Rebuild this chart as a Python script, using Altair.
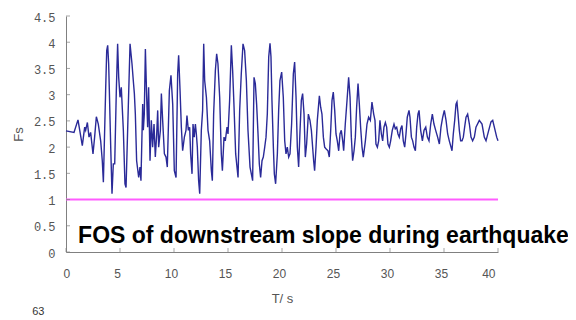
import altair as alt
import pandas as pd

# ---- data ----
t_vals = [
    0, 0.74, 1.11, 1.51, 1.73, 1.82, 1.98, 2.13, 2.28, 2.50, 2.65, 2.81, 2.99, 3.21, 3.36, 3.46,
    3.67, 3.77, 3.86, 3.95, 4.01, 4.14, 4.26, 4.38, 4.51, 4.66, 4.78, 4.88, 5.0, 5.12, 5.31, 5.46,
    5.56, 5.93, 6.11, 6.23, 6.33, 6.42, 6.54, 6.73, 6.85, 6.94, 7.10, 7.16, 7.25, 7.35, 7.47, 7.56,
    7.65, 7.78, 7.90, 8.02, 8.15, 8.27, 8.40, 8.49, 8.58, 8.74, 8.83, 8.95, 9.11, 9.26, 9.38, 9.57,
    9.72, 9.88, 10.03, 10.19, 10.34, 10.43, 10.56, 10.68, 10.80, 10.96, 11.11, 11.20,
    11.33, 11.45, 11.54, 11.67, 11.76, 11.87, 11.98, 12.07, 12.16, 12.28, 12.38, 12.53, 12.65, 12.75,
    12.84, 13.0, 13.15, 13.30, 13.46, 13.55, 13.67, 13.83, 13.95, 14.07, 14.23, 14.38, 14.48, 14.63,
    14.75, 14.91, 15.0, 15.15, 15.31, 15.43, 15.56, 15.71, 15.93, 16.08, 16.23, 16.39, 16.54, 16.70,
    16.85, 17.04,
    17.16, 17.28, 17.41, 17.53, 17.65, 17.78, 17.90, 18.02, 18.15, 18.27, 18.40, 18.52, 18.64, 18.77,
    18.89, 18.98, 19.07, 19.20, 19.29, 19.41, 19.57, 19.69, 19.81, 19.97, 20.12, 20.25, 20.37, 20.49,
    20.62, 20.74, 20.89, 21.05, 21.17, 21.30, 21.42, 21.54, 21.67, 21.79, 21.91, 22.04, 22.16, 22.28,
    22.44, 22.59, 22.72,
    22.93, 23.02, 23.15, 23.27, 23.46, 23.58, 23.70, 23.83, 23.95, 24.07, 24.26, 24.38, 24.51, 24.63,
    24.75, 24.88, 25.0, 25.12, 25.25, 25.37, 25.49, 25.62, 25.71, 25.86, 26.02, 26.17, 26.30, 26.42,
    26.54, 26.67, 26.79, 26.91, 27.04, 27.16, 27.28, 27.41, 27.53, 27.72, 27.87, 28.02, 28.18, 28.33,
    28.49,
    28.61, 28.70, 28.83, 28.95, 29.07, 29.20, 29.32, 29.44, 29.57, 29.69, 29.81, 29.94, 30.06, 30.21,
    30.37, 30.49, 30.62, 30.74, 30.86, 30.99, 31.11, 31.23, 31.36, 31.48, 31.60, 31.76, 31.85, 31.98,
    32.10, 32.22, 32.35, 32.47, 32.59, 32.69, 32.84, 33.0, 33.15, 33.31, 33.46, 33.61, 33.77, 33.92,
    34.07, 34.23,
    34.41, 34.57, 34.72, 34.88, 35.03, 35.19, 35.34, 35.49, 35.65, 35.74, 35.86, 35.99, 36.11, 36.20,
    36.30, 36.42, 36.54, 36.67, 36.79, 36.91, 37.04, 37.19, 37.35, 37.50, 37.65, 37.81, 37.96, 38.27,
    38.52, 38.73, 38.89, 39.14, 39.35, 39.51, 39.66, 39.88, 40.0,
]
fs_vals = [
    2.31, 2.28, 2.52, 2.03, 2.38, 2.32, 2.47, 2.19, 2.28, 1.87, 2.19, 2.58, 2.44, 2.12, 1.74, 1.33,
    3.08, 3.84, 3.94, 3.59, 3.11, 2.0, 1.11, 1.68, 1.68, 3.08, 3.97, 3.33, 2.95, 3.14, 2.32, 1.30,
    1.23, 3.97, 3.59, 3.27, 3.02, 2.63, 1.74, 1.42, 1.62, 1.36, 2.82, 2.32, 2.63, 3.87, 2.95, 2.38,
    3.14, 1.74, 2.51, 2.0, 2.44, 1.81, 2.25, 2.70, 2.0, 2.32, 3.02, 2.51, 1.87, 1.81, 1.62, 3.08,
    3.37, 2.82, 1.55, 1.42, 3.40, 3.75, 3.08, 2.38, 1.93, 2.19, 2.32, 2.60,
    2.32, 2.38, 1.87, 1.49, 2.44, 2.19, 2.44, 2.25, 2.0, 1.36, 1.11, 2.32, 2.70, 3.97,
    3.27, 2.95, 2.32, 2.12, 1.55, 1.36, 2.63, 3.46, 3.78, 3.59, 2.95, 1.87, 1.55, 2.19,
    2.12, 2.38, 2.25, 2.89, 3.94, 3.46, 2.76, 1.87, 1.42, 2.70, 3.40, 3.97, 3.84, 3.27,
    2.32, 1.62,
    1.49, 1.36, 3.33, 3.21, 2.82, 2.25, 1.68, 1.42, 1.74, 1.81, 2.0, 2.19, 2.63, 3.72,
    3.98, 3.72, 2.89, 2.0, 1.49, 1.30, 1.87, 2.70, 3.27, 3.43, 2.95, 2.12, 1.87, 2.0,
    1.81, 1.87, 2.44, 3.40, 3.62, 2.95, 2.0, 1.62, 2.32, 2.89, 3.02, 2.63, 1.81, 2.06,
    2.63, 2.51, 2.32,
    1.74, 1.55, 2.0, 2.51, 2.98, 2.76, 2.63, 2.19, 2.0, 1.97, 1.93, 1.81, 2.32, 2.89,
    3.05, 2.70, 2.25, 2.12, 1.93, 2.25, 2.32, 2.12, 1.93, 2.44, 2.89, 3.33, 2.95, 2.19,
    1.74, 1.93, 2.19, 2.76, 3.21, 2.82, 2.38, 2.0, 1.81, 2.12, 2.44, 2.57, 2.51, 2.86,
    2.63,
    2.51, 2.06, 2.0, 2.12, 2.51, 2.25, 2.12, 2.38, 2.47, 2.38, 2.06, 2.0, 2.12, 2.32,
    2.44, 2.35, 2.38, 2.25, 2.19, 2.35, 2.41, 2.12, 2.0, 2.25, 2.57, 2.70, 2.57, 2.19,
    2.12, 2.0, 1.93, 2.38, 2.63, 2.70, 2.32, 2.12, 2.32, 2.38, 2.19, 2.12, 2.44, 2.63,
    2.44, 2.32,
    2.19, 2.06, 2.38, 2.57, 2.70, 2.51, 2.25, 2.12, 2.0, 1.93, 2.25, 2.51, 2.82, 2.86,
    2.63, 2.32, 2.12, 2.12, 2.19, 2.38, 2.57, 2.63, 2.44, 2.19, 2.12, 2.19, 2.38, 2.51,
    2.44, 2.19, 2.12, 2.32, 2.48, 2.51, 2.38, 2.19, 2.12,
]
x_ticks = [0, 5, 10, 15, 20, 25, 30, 35, 40]
y_ticks = [0, 0.5, 1, 1.5, 2, 2.5, 3, 3.5, 4, 4.5]
threshold = [1.0]
annotation = ["FOS of downstream slope during earthquake"]
page_label = ["63"]

df = pd.DataFrame({"t": t_vals, "fs": fs_vals})
xscale = alt.Scale(domain=[0, 40], nice=False, zero=False)
yscale = alt.Scale(domain=[0, 4.5], nice=False, zero=False)

axis_grey = "#808080"
x_title = "T/ s"
y_title = "Fs"

x_axis = alt.Axis(values=x_ticks, tickSize=0, labelPadding=16, labelOffset=-3,
                  domainColor=axis_grey, grid=False, labelOverlap=False,
                  labelFont="Liberation Sans", labelFontSize=12, labelColor="#555555",
                  titleFont="Liberation Sans", titleFontSize=13, titleFontWeight="normal",
                  titleColor="#555555", titlePadding=13)
y_axis = alt.Axis(values=y_ticks, tickSize=0, labelPadding=11, labelOffset=1,
                  domainColor=axis_grey, grid=False, labelOverlap=False,
                  labelFont="Liberation Mono", labelFontSize=12, labelColor="#555555",
                  format=".1~f",
                  titleFont="Liberation Sans", titleFontSize=13, titleFontWeight="normal",
                  titleColor="#555555", titlePadding=8)


def X(field):
    return alt.X(field, type="quantitative", scale=xscale, axis=x_axis, title=x_title)


def Y(field):
    return alt.Y(field, type="quantitative", scale=yscale, axis=y_axis, title=y_title)


line = alt.Chart(df).mark_line(color="#2a2a98", strokeWidth=1.4, interpolate="linear").encode(
    x=X("t"), y=Y("fs")
)

thr_df = pd.DataFrame({"y": threshold, "x0": [x_ticks[0]], "x1": [x_ticks[-1]]})
thr = alt.Chart(thr_df).mark_rule(color="#ff5cff", strokeWidth=2).encode(
    y=Y("y"), x=X("x0"), x2="x1:Q"
)

ytick = alt.Chart(pd.DataFrame({"v": y_ticks, "z": [0] * len(y_ticks)})).mark_tick(
    orient="horizontal", size=4, thickness=1, xOffset=2, color=axis_grey
).encode(y=Y("v"), x=X("z"))

xtick = alt.Chart(pd.DataFrame({"v": x_ticks, "z": [0] * len(x_ticks)})).mark_tick(
    orient="vertical", size=4, thickness=1, yOffset=-2, color=axis_grey
).encode(x=X("v"), y=Y("z"))

ann = alt.Chart(pd.DataFrame({"txt": annotation, "x": [1.12], "y": [0.17]})).mark_text(
    align="left", baseline="alphabetic", font="Liberation Sans", fontSize=23,
    fontWeight="bold", color="black"
).encode(x=X("x"), y=Y("y"), text="txt:N")

page = alt.Chart(pd.DataFrame({"txt": page_label, "x": [-2.56], "y": [-1.15]})).mark_text(
    align="center", baseline="middle", font="Liberation Sans", fontSize=11, color="#333333"
).encode(x=X("x"), y=Y("y"), text="txt:N")

chart = alt.layer(line, thr, ytick, xtick, ann, page).properties(
    width=432, height=236,
    autosize=alt.AutoSizeParams(type="none"),
    padding={"left": 58, "top": 8, "right": 70, "bottom": 66},
    background="white",
).configure_view(stroke=None)

chart.save("out.html", embed_options={"renderer": "svg", "actions": False})
